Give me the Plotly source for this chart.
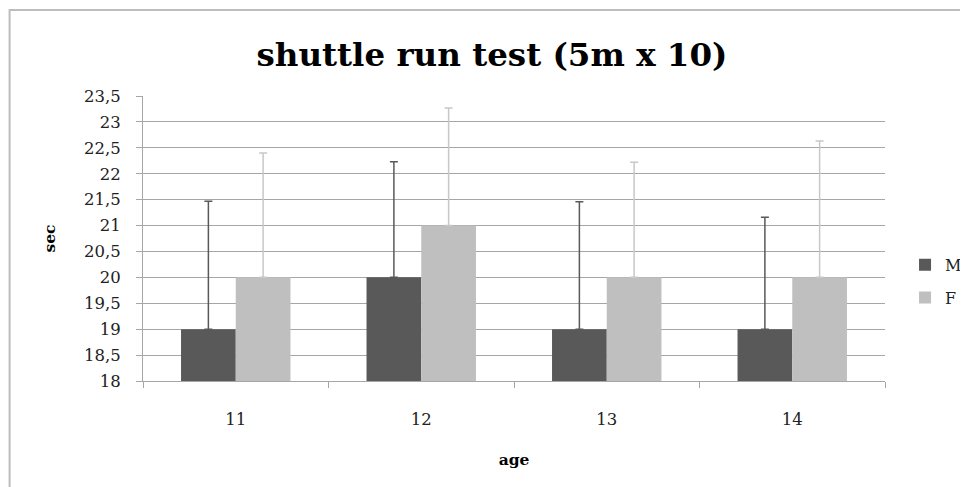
import plotly.graph_objects as go

ages = ["11", "12", "13", "14"]
male_mean = [19, 20, 19, 19]
male_sd = [2.47, 2.23, 2.46, 2.16]
female_mean = [20, 21, 20, 20]
female_sd = [2.40, 2.27, 2.22, 2.63]
y_ticks = [18 + 0.5 * i for i in range(12)]

serif = "DejaVu Serif, Liberation Serif, serif"

fig = go.Figure()
fig.add_trace(go.Bar(
    name="M", x=ages, y=male_mean, legendgroup="M",
    marker=dict(color="#595959", line=dict(width=0)),
    error_y=dict(type="data", array=male_sd, arrayminus=[0] * len(male_sd),
                 symmetric=False, color="#595959", thickness=1.5, width=4),
))
fig.add_trace(go.Bar(
    name="F", x=ages, y=female_mean, legendgroup="F",
    marker=dict(color="#BFBFBF", line=dict(width=0)),
    error_y=dict(type="data", array=female_sd, arrayminus=[0] * len(female_sd),
                 symmetric=False, color="#C8C8C8", thickness=1.5, width=4),
))

fig.update_layout(
    width=968, height=487,
    margin=dict(l=135, r=91, t=88, b=114, autoexpand=False),
    paper_bgcolor="white", plot_bgcolor="white",
    separators=",.",
    barmode="group", bargap=0.41, bargroupgap=0,
    title=dict(text="<b>shuttle run test (5m x 10)</b>", x=0.5, xanchor="center",
               y=0.905, yanchor="middle",
               font=dict(family=serif, size=32.5, color="black")),
    font=dict(family=serif, size=16, color="#222222"),
    legend=dict(x=1.027, y=0.35, xanchor="left", yanchor="middle",
                font=dict(family=serif, size=16, color="#222222"),
                itemwidth=30, tracegroupgap=9, bgcolor="rgba(0,0,0,0)"),
    xaxis=dict(
        title=dict(text="<b>age</b>", font=dict(family=serif, size=15.5, color="black"), standoff=26),
        showline=True, linecolor="#A6A6A6", linewidth=1,
        ticks="outside", tickson="boundaries", ticklen=6, tickcolor="#A6A6A6",
        ticklabelstandoff=23,
        showgrid=False, tickfont=dict(family=serif, size=16.5, color="#222222"),
    ),
    yaxis=dict(
        title=dict(text="<b>sec</b>", font=dict(family=serif, size=15.5, color="black"), standoff=24),
        range=[18, 23.5], tickvals=y_ticks,
        showline=True, linecolor="#A6A6A6", linewidth=1,
        ticks="outside", ticklen=6, tickcolor="#A6A6A6",
        ticklabelstandoff=12,
        showgrid=True, gridcolor="#A6A6A6", gridwidth=1,
        zeroline=False, tickfont=dict(family=serif, size=16.5, color="#222222"),
    ),
    shapes=[dict(type="rect", xref="paper", yref="paper",
                 x0=-0.1798, x1=1.15, y0=-0.5, y1=1.3018,
                 line=dict(color="#BDBDBD", width=2), fillcolor="rgba(0,0,0,0)",
                 layer="below")],
)

fig.write_html("out.html")
